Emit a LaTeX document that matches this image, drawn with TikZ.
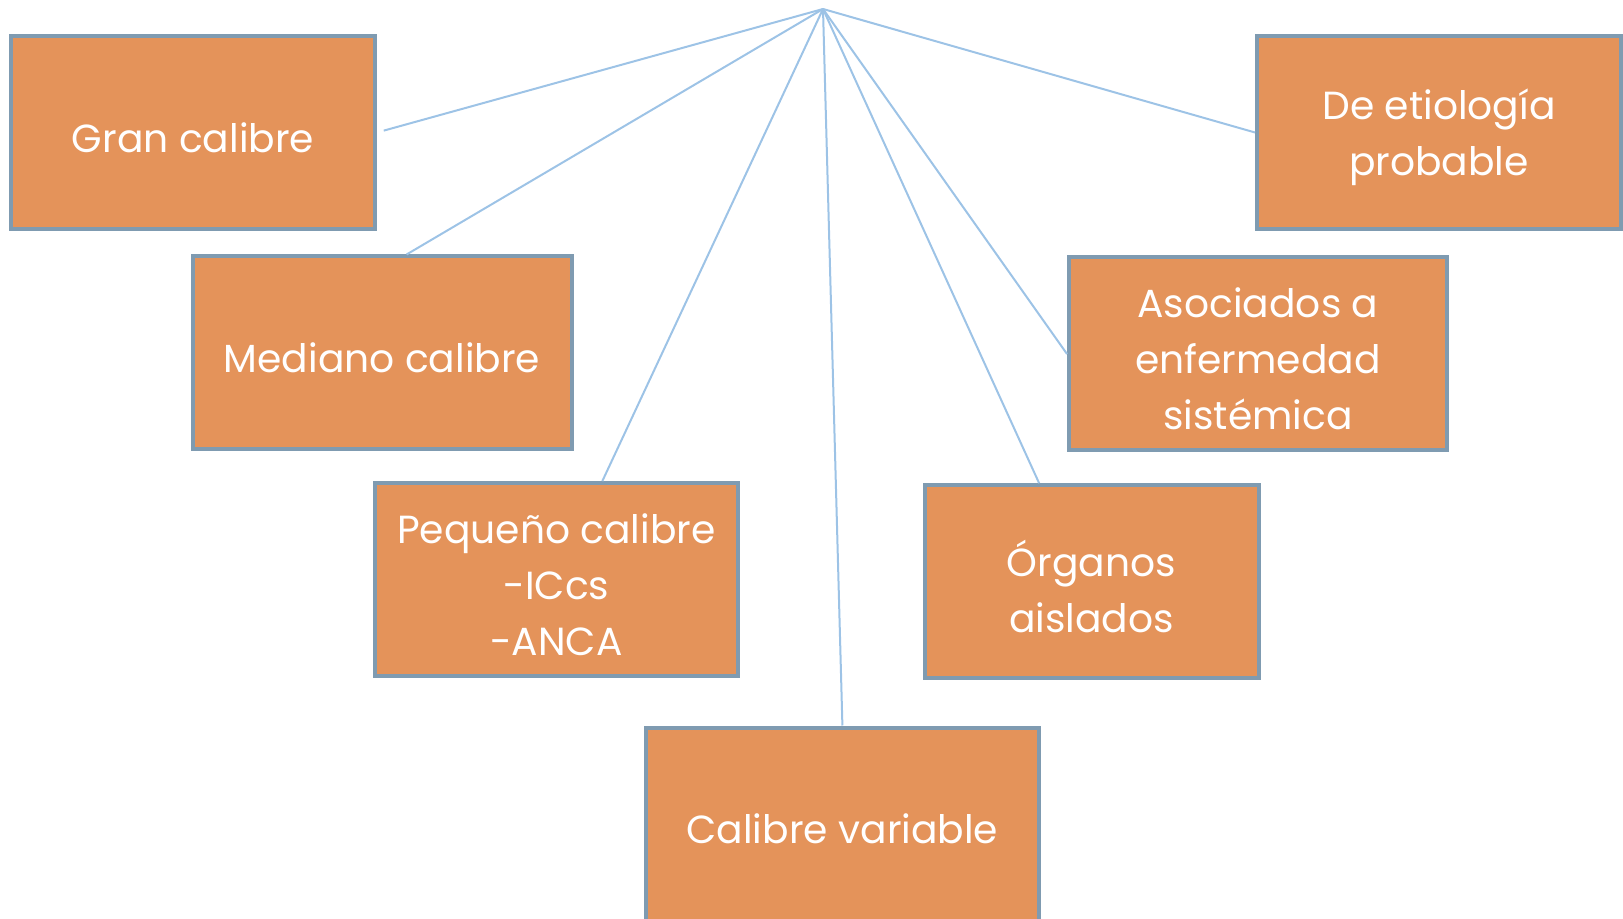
\documentclass[tikz,border=0pt]{standalone}
\usepackage{fontspec}
\setmainfont{Poppins}
\usepackage{tikz}
\definecolor{boxfill}{HTML}{E4935A}
\definecolor{boxline}{HTML}{7F9BB1}
\definecolor{linkblue}{HTML}{9DC3E6}

\begin{document}
\begin{tikzpicture}[x=0.5pt, y=-0.5pt,
  font=\fontsize{19.6}{28}\selectfont,
  cat/.style={draw=boxline, line width=2pt, fill=boxfill, inner sep=0pt, minimum height=96.5pt,
    label={[txt]center:#1}},
  txt/.style={text=white, align=center, yshift=-2.6pt},
  link/.style={draw=linkblue, line width=1pt}
]
\useasboundingbox (0,0) rectangle (1623,919);
\clip (0,0) rectangle (1623,919);
% root point of the fan
\coordinate (top) at (823,9);
% left column: by vessel size
\node[cat={Gran calibre}, minimum width=182pt]   (gran) at (193,132.5) {};
\node[cat={Mediano calibre}, minimum width=189.5pt] (med) at (382,353) {};
\node[cat={Pequeño calibre\\-ICcs\\-ANCA}, minimum width=181.5pt] (peq) at (556.4,579.6) {};
\node[cat={Calibre variable}, minimum width=196.5pt] (var) at (842.4,824) {};
% right column: by cause and organ
\node[cat={Órganos\\aislados}, minimum width=167pt] (org) at (1091.5,581.7) {};
\node[cat={Asociados a\\enfermedad\\sistémica}, minimum width=189pt] (aso) at (1258,354) {};
\node[cat={De etiología\\probable}, minimum width=182pt] (eti) at (1439,132.5) {};

\draw[link, shorten >=3.5pt] (top) -- (gran.east);
\draw[link] (top) -- (med.76);
\draw[link] (top) -- (peq.65);
\draw[link] (top) -- (var.north);
\draw[link] (top) -- (org.118);
\draw[link] (top) -- (aso.west);
\draw[link] (top) -- (eti.west);
\end{tikzpicture}
\end{document}
